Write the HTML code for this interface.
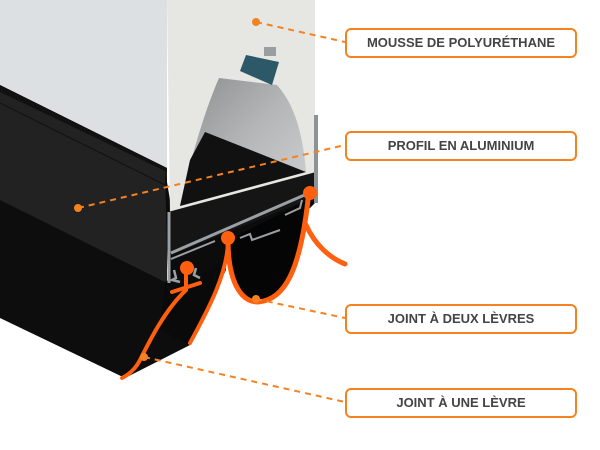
<!DOCTYPE html>
<html><head><style>
html,body{margin:0;padding:0;background:#fff;}
.wrap{position:relative;width:600px;height:450px;overflow:hidden;}
.box{position:absolute;left:345px;width:228px;height:26px;border:2px solid #f58220;border-radius:6px;font-family:"Liberation Sans",sans-serif;font-weight:bold;font-size:13px;color:#444;text-align:center;line-height:26px;}
</style></head><body><div class="wrap">
<svg width="600" height="450" style="position:absolute;left:0;top:0">
<defs>
<linearGradient id="hole" x1="0" y1="0" x2="1" y2="1">
<stop offset="0" stop-color="#8a8c8e"/><stop offset="0.5" stop-color="#b4b6b8"/><stop offset="1" stop-color="#d0d2d3"/>
</linearGradient>
</defs>
<polygon points="0,0 167,0 167,168 0,85" fill="#dde0e3"/>
<polygon points="0,195 170,282 190,345 125,378 0,318" fill="#0d0d0d"/>
<polygon points="0,85 167,168 167,283 0,200" fill="#222"/>
<polygon points="0,85 167,168 167,172 0,92" fill="#111"/>
<line x1="0" y1="103" x2="165" y2="185" stroke="#111" stroke-width="1"/>
<polygon points="165,282 226,255 226,270 190,345 160,330" fill="#0a0a0a"/>
<polygon points="165,170 172,212 315,172 318,200 300,218 240,250 200,275 168,290" fill="#0c0c0c"/>
<path d="M228,250 C232,295 245,305 258,302 C285,298 300,270 308,200 L228,240 Z" fill="#050505"/>
<polygon points="167,0 315,0 315,175 170,212" fill="#e6e6e3"/>
<path d="M219,78 L277,85 C295,105 303,135 306,172 L180,206 C190,160 205,110 219,78 Z" fill="url(#hole)"/>
<polygon points="205,132 306,172 180,206 190,160" fill="#111"/>
<polygon points="168,212 316,172 318,196 168,256" fill="#151515"/>
<polygon points="246,55 279,62 272,85 240,71" fill="#2c5868"/>
<rect x="264" y="47" width="12" height="9" fill="#9a9ea0"/>
<rect x="314" y="115" width="4" height="88" fill="#8d9295"/>
<polyline points="169,212 169,283" fill="none" stroke="#9aa0a3" stroke-width="3"/>
<polyline points="171,253 316,190" fill="none" stroke="#9aa0a3" stroke-width="3"/>
<polyline points="171,259 215,241" fill="none" stroke="#9aa0a3" stroke-width="2"/>
<polyline points="240,238 250,234 252,240 280,230" fill="none" stroke="#9aa0a3" stroke-width="2"/>
<polyline points="285,215 300,208 302,200" fill="none" stroke="#9aa0a3" stroke-width="2"/>
<path d="M174,270 L176,278 L172,280 L180,282 M196,268 L194,275 L200,278" fill="none" stroke="#9aa0a3" stroke-width="2.5"/>
<g fill="none" stroke="#ff6010" stroke-linecap="round">
<path d="M186,272 L186,290 C165,310 150,340 140,360 C135,370 128,375 122,378" stroke-width="4"/>
<path d="M172,292 L200,283" stroke-width="4"/>
<path d="M228,240 C228,275 205,315 190,343" stroke-width="4"/>
<path d="M228,240 C228,280 240,302 258,302 C285,300 300,270 308,200" stroke-width="5"/>
<path d="M306,225 C315,245 330,258 345,264" stroke-width="5"/>
</g>
<circle cx="187" cy="268" r="7" fill="#ff6010"/>
<circle cx="228" cy="238" r="7" fill="#ff6010"/>
<circle cx="310" cy="193" r="7" fill="#ff6010"/>
<g stroke="#f58220" stroke-width="2" stroke-dasharray="6,5" fill="none">
<line x1="256" y1="22" x2="345" y2="42"/>
<line x1="78" y1="208" x2="345" y2="145"/>
<line x1="256" y1="299" x2="345" y2="318"/>
<line x1="144" y1="357" x2="345" y2="402"/>
</g>
<g fill="#f58220">
<circle cx="256" cy="22" r="4"/><circle cx="78" cy="208" r="4"/>
<circle cx="256" cy="299" r="4"/><circle cx="144" cy="357" r="4"/>
</g>
</svg>
<div class="box" style="top:28px">MOUSSE DE POLYURÉTHANE</div>
<div class="box" style="top:131px">PROFIL EN ALUMINIUM</div>
<div class="box" style="top:304px">JOINT À DEUX LÈVRES</div>
<div class="box" style="top:388px">JOINT À UNE LÈVRE</div>
</div></body></html>
